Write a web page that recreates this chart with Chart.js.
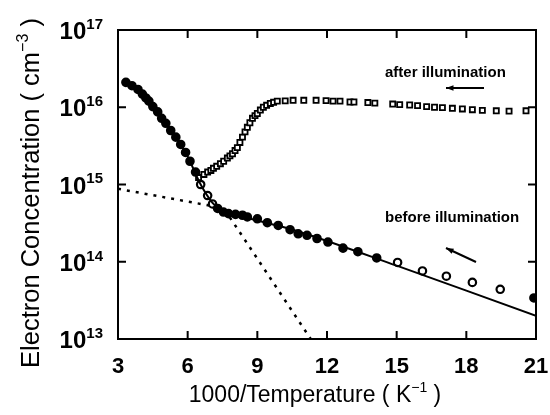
<!DOCTYPE html>
<html>
<head>
<meta charset="utf-8">
<script src="https://cdn.jsdelivr.net/npm/chart.js@4"></script>
<style>
  html, body { margin: 0; padding: 0; background: #fff; }
  canvas { display: block; }
</style>
</head>
<body>
<canvas id="chart" width="550" height="415"></canvas>
<script>
// ===============================
// Data
// ===============================
const xTicks = [3, 6, 9, 12, 15, 18, 21];
const yTicks = [1e13, 1e14, 1e15, 1e16, 1e17];

// before illumination (circles)
const xBefore = [3.34, 3.6, 3.86, 4.05, 4.2, 4.33, 4.5, 4.71, 4.88, 5.06, 5.27, 5.49, 5.7, 5.91, 6.1, 6.34,
  6.56, 6.86, 7.07, 7.29, 7.54, 7.76, 8.06, 8.36, 8.57, 9.0, 9.43, 9.9, 10.41, 10.76, 11.14, 11.57, 12.04,
  12.69, 13.33, 14.14, 15.04, 16.11, 17.14, 18.26, 19.46, 20.91];
const yBefore = [2.1e16, 1.9e16, 1.7e16, 1.48e16, 1.32e16, 1.2e16, 1.02e16, 8.7e15, 7.2e15, 6.2e15, 5.0e15,
  4.1e15, 3.3e15, 2.6e15, 2.0e15, 1.45e15, 1.0e15, 7.2e14, 5.6e14, 4.9e14, 4.4e14, 4.2e14, 4.1e14, 4.0e14,
  3.8e14, 3.6e14, 3.2e14, 2.95e14, 2.6e14, 2.3e14, 2.2e14, 2.0e14, 1.8e14, 1.5e14, 1.35e14, 1.12e14, 9.8e13,
  7.6e13, 6.5e13, 5.4e13, 4.4e13, 3.4e13];

// after illumination (squares)
const xAfter = [6.47, 6.7, 6.86, 7.0, 7.11, 7.25, 7.41, 7.55, 7.71, 7.82, 7.93, 8.04, 8.14, 8.25, 8.36, 8.47,
  8.57, 8.68, 8.79, 8.9, 9.0, 9.13, 9.26, 9.4, 9.56, 9.7, 9.86, 10.2, 10.54, 11.0, 11.53, 11.96, 12.26, 12.56,
  12.99, 13.16, 13.76, 14.06, 14.83, 15.13, 15.56, 15.9, 16.29, 16.63, 16.97, 17.4, 17.83, 18.26, 18.69,
  19.29, 19.84, 20.57];
const yAfter = [1.23e15, 1.35e15, 1.45e15, 1.52e15, 1.62e15, 1.72e15, 1.86e15, 2.0e15, 2.2e15, 2.35e15,
  2.5e15, 2.75e15, 3.0e15, 3.5e15, 4.1e15, 4.8e15, 5.5e15, 6.3e15, 7.2e15, 7.8e15, 8.3e15, 9.2e15, 1.0e16,
  1.06e16, 1.12e16, 1.16e16, 1.2e16, 1.21e16, 1.23e16, 1.23e16, 1.23e16, 1.22e16, 1.2e16, 1.2e16, 1.17e16,
  1.17e16, 1.15e16, 1.13e16, 1.1e16, 1.08e16, 1.07e16, 1.05e16, 1.02e16, 1.0e16, 9.9e15, 9.7e15, 9.5e15,
  9.3e15, 9.1e15, 9.0e15, 8.9e15, 9.0e15];

// fitted curve (solid)
const xFit = [3.34, 4.33, 5.06, 5.91, 6.56, 7.07, 7.54, 7.8, 10.8, 15.0, 21];
const yFit = [2.1e16, 1.2e16, 6.2e15, 2.6e15, 1.0e15, 5.8e14, 4.4e14, 4.2e14, 2.45e14, 8.9e13, 2.0e13];

// components (dotted)
const xShallow = [3, 7.0];
const yShallow = [8.8e14, 5.3e14];
const xSteep = [7.6, 11.3];
const ySteep = [4.7e14, 1.0e13];

// circles drawn hollow in the figure
const hollowBefore = [6.56, 6.86, 7.07, 15.04, 16.11, 17.14, 18.26, 19.46];

const pts = (xs, ys) => xs.map((v, i) => ({ x: v, y: ys[i] }));
const FONT = "'Liberation Sans', Arial, sans-serif";

// text with a raised exponent
function supText(ctx, base, sup, tail, x, y, baseSize, supSize, weight, align) {
  const bf = weight + ' ' + baseSize + 'px ' + FONT;
  const sf = weight + ' ' + supSize + 'px ' + FONT;
  ctx.font = bf; const wb = ctx.measureText(base).width; const wt = ctx.measureText(tail).width;
  ctx.font = sf; const ws = ctx.measureText(sup).width;
  const total = wb + ws + wt;
  let x0 = x;
  if (align === 'right') x0 = x - total;
  if (align === 'center') x0 = x - total / 2;
  ctx.textAlign = 'left';
  ctx.textBaseline = 'alphabetic';
  ctx.font = bf; ctx.fillText(base, x0, y);
  ctx.font = sf; ctx.fillText(sup, x0 + wb, y - baseSize * 0.42);
  ctx.font = bf; ctx.fillText(tail, x0 + wb + ws, y);
}

function arrow(ctx, x1, y1, x2, y2) {
  const ang = Math.atan2(y2 - y1, x2 - x1);
  ctx.beginPath();
  ctx.moveTo(x1, y1);
  ctx.lineTo(x2, y2);
  ctx.stroke();
  ctx.beginPath();
  ctx.moveTo(x2, y2);
  ctx.lineTo(x2 - 8 * Math.cos(ang - 0.35), y2 - 8 * Math.sin(ang - 0.35));
  ctx.lineTo(x2 - 8 * Math.cos(ang + 0.35), y2 - 8 * Math.sin(ang + 0.35));
  ctx.closePath();
  ctx.fill();
}

// ===============================
// Frame, ticks, labels
// ===============================
const framePlugin = {
  id: 'frame',
  afterDraw(chart) {
    const { ctx, chartArea: a, scales: { x, y } } = chart;
    ctx.save();
    ctx.strokeStyle = '#000';
    ctx.fillStyle = '#000';
    ctx.lineWidth = 2;
    ctx.strokeRect(a.left, a.top, a.right - a.left, a.bottom - a.top);

    ctx.beginPath();
    xTicks.forEach(v => {
      const px = x.getPixelForValue(v);
      ctx.moveTo(px, a.bottom); ctx.lineTo(px, a.bottom - 8);
      ctx.moveTo(px, a.top); ctx.lineTo(px, a.top + 8);
    });
    yTicks.forEach(v => {
      const py = y.getPixelForValue(v);
      ctx.moveTo(a.left, py); ctx.lineTo(a.left + 8, py);
      ctx.moveTo(a.right, py); ctx.lineTo(a.right - 8, py);
    });
    ctx.stroke();

    // x tick labels
    ctx.font = 'bold 22px ' + FONT;
    ctx.textAlign = 'center';
    ctx.textBaseline = 'alphabetic';
    xTicks.forEach(v => ctx.fillText(String(v), x.getPixelForValue(v), 373));

    // y tick labels
    yTicks.forEach(v => {
      const py = y.getPixelForValue(v);
      supText(ctx, '10', String(Math.round(Math.log10(v))), '', 103, py + 9, 24, 15, 'bold', 'right');
    });

    // axis titles
    supText(ctx, '1000/Temperature ( K', '\u22121', ' )', 315, 402, 23, 14, 'normal', 'center');
    ctx.save();
    ctx.translate(39, 193);
    ctx.rotate(-Math.PI / 2);
    supText(ctx, 'Electron Concentration ( cm', '\u22123', ' )', 0, 0, 25.5, 16, 'normal', 'center');
    ctx.restore();

    // annotations
    ctx.font = 'bold 15px ' + FONT;
    ctx.textAlign = 'left';
    ctx.fillText('after illumination', 385, 77);
    ctx.fillText('before illumination', 385, 222);
    ctx.lineWidth = 2;
    arrow(ctx, 484, 88, 446, 88);
    arrow(ctx, 476, 262, 446, 248);
    ctx.restore();
  }
};

const ctx = document.getElementById('chart').getContext('2d');
new Chart(ctx, {
  type: 'scatter',
  data: {
    datasets: [
      {
        label: 'fit',
        type: 'line',
        data: pts(xFit, yFit),
        borderColor: '#000',
        borderWidth: 2,
        pointRadius: 0,
        tension: 0.3,
        fill: false
      },
      {
        label: 'shallow',
        type: 'line',
        data: pts(xShallow, yShallow),
        borderColor: '#000',
        borderWidth: 2.5,
        borderDash: [3, 6],
        pointRadius: 0,
        fill: false
      },
      {
        label: 'steep',
        type: 'line',
        data: pts(xSteep, ySteep),
        borderColor: '#000',
        borderWidth: 2.5,
        borderDash: [3, 6],
        pointRadius: 0,
        fill: false
      },
      {
        label: 'after illumination',
        data: pts(xAfter, yAfter),
        pointStyle: 'rect',
        pointRadius: 3.6,
        pointBorderWidth: 1.8,
        pointBorderColor: '#000',
        pointBackgroundColor: '#fff',
        showLine: false
      },
      {
        label: 'before illumination',
        data: pts(xBefore, yBefore),
        pointStyle: 'circle',
        pointRadius: 3.7,
        pointBorderWidth: 2.2,
        pointBorderColor: '#000',
        pointBackgroundColor: xBefore.map(v => hollowBefore.includes(v) ? '#fff' : '#000'),
        showLine: false
      }
    ]
  },
  options: {
    responsive: false,
    animation: false,
    events: [],
    layout: { padding: { left: 118, top: 30, right: 14, bottom: 76 } },
    plugins: {
      legend: { display: false },
      tooltip: { enabled: false }
    },
    scales: {
      x: { type: 'linear', min: 3, max: 21, display: false },
      y: { type: 'logarithmic', min: 1e13, max: 1e17, display: false }
    }
  },
  plugins: [framePlugin]
});
</script>
</body>
</html>
